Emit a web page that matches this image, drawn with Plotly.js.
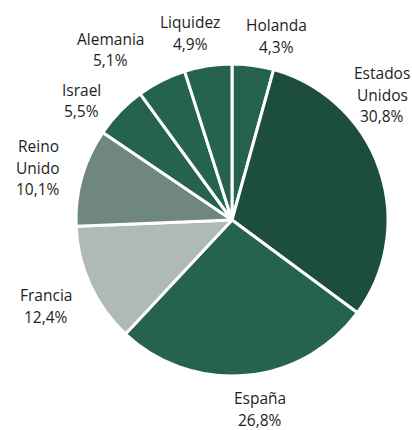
<!DOCTYPE html>
<html>
<head>
<meta charset="utf-8">
<script src="https://cdn.plot.ly/plotly-3.0.1.min.js"></script>
<style>
html,body{margin:0;padding:0;background:#fff;}
#chart{width:412px;height:430px;}
</style>
</head>
<body>
<div id="chart"></div>
<script>
// Data (clockwise from 12 o'clock)
var labels = ["Holanda", "Estados Unidos", "España", "Francia", "Reino Unido", "Israel", "Alemania", "Liquidez"];
var values = [4.3, 30.8, 26.8, 12.4, 10.1, 5.5, 5.1, 4.9];

// Styles / layout helpers (not data)
var colors = ["#26634f", "#1c4d3e", "#26634f", "#b0bab5", "#6f877c", "#26634f", "#26634f", "#26634f"];
// label anchor positions in pixels (center x, center y of first text line)
var labelPos = [[276, 25], [382, 73], [260, 398], [46, 295], [38, 146], [81, 90], [110, 39], [190, 22]];
var lineGap = 21.5;

var W = 412, H = 430;
function fmt(v){ return v.toFixed(1).replace('.', ',') + '%'; }

var annotations = [];
labels.forEach(function(l, i){
  var words = l.split(' ');
  var lines = words.concat([fmt(values[i])]);
  lines.forEach(function(t, k){
    annotations.push({
      xref: 'paper', yref: 'paper',
      x: labelPos[i][0] / W, y: 1 - (labelPos[i][1] + k * lineGap) / H,
      xanchor: 'center', yanchor: 'middle',
      text: t,
      showarrow: false,
      borderpad: 0,
      font: {family: 'Open Sans, sans-serif', size: 15.5, color: '#1e1e1e'}
    });
  });
});

var cx = 232, cy = 220, r = 156;
var trace = {
  type: 'pie',
  labels: labels,
  values: values,
  sort: false,
  direction: 'clockwise',
  rotation: 0,
  textinfo: 'none',
  hoverinfo: 'label+percent',
  marker: {colors: colors, line: {color: '#ffffff', width: 3}},
  domain: {x: [(cx - r) / W, (cx + r) / W], y: [1 - (cy + r) / H, 1 - (cy - r) / H]}
};

var layout = {
  width: W, height: H,
  margin: {l: 0, r: 0, t: 0, b: 0},
  paper_bgcolor: '#ffffff',
  showlegend: false,
  separators: ',.',
  annotations: annotations,
  font: {family: 'Open Sans, sans-serif'}
};

Plotly.newPlot('chart', [trace], layout, {staticPlot: true});
</script>
</body>
</html>
